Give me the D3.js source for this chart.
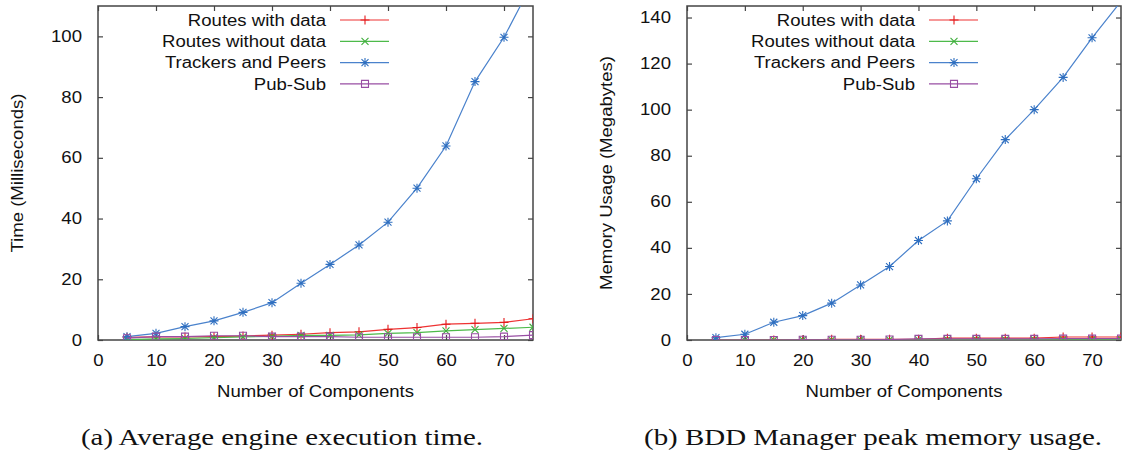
<!DOCTYPE html>
<html>
<head>
<meta charset="utf-8">
<script src="https://cdn.jsdelivr.net/npm/d3@7"></script>
<style>
    body { margin: 0; background: #fff; }
    svg { display: block; }
    text { font-family: "Liberation Sans", Arial, sans-serif; fill: #111; }
    text.caption { font-family: "Liberation Serif", "Times New Roman", serif; }
</style>
</head>
<body>
<div id="chart"></div>
<script>

const chartWidth = 1122;
const chartHeight = 458;

// DATA

const components = [5, 10, 15, 20, 25, 30, 35, 40, 45, 50, 55, 60, 65, 70, 75];

const seriesNames = ["Routes with data", "Routes without data", "Trackers and Peers", "Pub-Sub"];

// (a) time in milliseconds
const timeRoutesWithData    = [0.9, 1.0, 1.0, 1.1, 1.3, 1.6, 1.9, 2.4, 2.7, 3.5, 4.1, 5.2, 5.5, 5.8, 7.0];
const timeRoutesWithoutData = [0.1, 0.4, 0.5, 0.8, 1.0, 1.2, 1.5, 1.5, 1.7, 2.2, 2.4, 3.0, 3.4, 3.8, 4.2];
const timeTrackersPeers     = [1.1, 2.2, 4.4, 6.3, 9.1, 12.3, 18.7, 24.9, 31.3, 38.8, 50.0, 63.9, 85.1, 99.7, 118];
const timePubSub            = [0.6, 1.1, 1.1, 1.4, 1.4, 1.1, 1.1, 1.1, 0.9, 0.9, 0.9, 0.9, 0.9, 1.1, 1.6];

// (b) memory in megabytes
const memRoutesWithData    = [0.0, 0.0, 0.0, 0.0, 0.3, 0.3, 0.3, 0.3, 0.8, 0.8, 0.8, 0.8, 1.3, 1.3, 1.3];
const memRoutesWithoutData = [0.0, 0.0, 0.0, 0.0, 0.1, 0.1, 0.1, 0.1, 0.2, 0.2, 0.2, 0.2, 0.2, 0.2, 0.2];
const memTrackersPeers     = [1.0, 2.5, 7.7, 10.6, 16.0, 23.9, 31.9, 43.2, 51.7, 70.0, 87.0, 100.0, 114.0, 131.2, 147];
const memPubSub            = [0.0, 0.0, 0.0, 0.1, 0.1, 0.1, 0.2, 0.5, 0.5, 0.5, 0.5, 0.5, 0.6, 0.6, 0.6];

const xTicks = [0, 10, 20, 30, 40, 50, 60, 70];
const timeTicks = [0, 20, 40, 60, 80, 100];
const memTicks = [0, 20, 40, 60, 80, 100, 120, 140];

const colors = ["#ee3333", "#4dba4a", "#4a82cc", "#984ea3"];
const markerColors = ["#e41a1c", "#3fae3c", "#2f6fc0", "#984ea3"];

// wide sans look of the original
const stretch = "scale(1.16,1)";

// MARKERS

const markerPath = {
    plus: "M-4.5,0H4.5M0,-4.5V4.5",
    cross: "M-3.5,-3.5L3.5,3.5M-3.5,3.5L3.5,-3.5",
    star: "M-4.5,0H4.5M0,-4.5V4.5M-3.5,-3.5L3.5,3.5M-3.5,3.5L3.5,-3.5",
    square: "M-3.5,-3.5H3.5V3.5H-3.5Z"
};
const markerKinds = ["plus", "cross", "star", "square"];

const svg = d3
    .select("#chart")
    .append("svg")
    .attr("width", chartWidth)
    .attr("height", chartHeight);

function drawPanel(p) {

    const x = d3.scaleLinear()
        .domain([0, 75])
        .range([p.left, p.right]);

    const y = d3.scaleLinear()
        .domain([0, p.yMax])
        .range([340, 6]);

    const g = svg.append("g");

    // AXES (gnuplot style: inward ticks, mirrored)

    const xAxis = d3.axisBottom(x)
        .tickValues(xTicks)
        .tickSize(-5)
        .tickPadding(15);

    const xAxisTop = d3.axisTop(x)
        .tickValues(xTicks)
        .tickSize(-5)
        .tickFormat("");

    const yAxis = d3.axisLeft(y)
        .tickValues(p.yTicks)
        .tickSize(-5)
        .tickPadding(14);

    const yAxisRight = d3.axisRight(y)
        .tickValues(p.yTicks)
        .tickSize(-5)
        .tickFormat("");

    const gx = g.append("g").attr("transform", "translate(0,340)").call(xAxis);
    g.append("g").attr("transform", "translate(0,6)").call(xAxisTop);
    const gy = g.append("g").attr("transform", "translate(" + p.left + ",0)").call(yAxis);
    g.append("g").attr("transform", "translate(" + p.right + ",0)").call(yAxisRight);

    g.selectAll(".domain").remove();
    g.selectAll(".tick line").attr("stroke", "#444").attr("stroke-width", 1.2);
    g.selectAll(".tick text")
        .style("font-size", "16px")
        .attr("fill", "#111");

    gx.selectAll(".tick text").attr("transform", stretch);
    gy.selectAll(".tick text")
        .attr("x", 0)
        .attr("transform", "translate(-16,0) " + stretch);

    // border
    g.append("rect")
        .attr("x", p.left)
        .attr("y", 6)
        .attr("width", p.right - p.left)
        .attr("height", 334)
        .attr("fill", "none")
        .attr("stroke", "#444")
        .attr("stroke-width", 1.5);

    // axis titles
    g.append("text")
        .attr("text-anchor", "middle")
        .attr("transform", "translate(" + ((p.left + p.right) / 2) + ",397) " + stretch)
        .style("font-size", "16px")
        .text("Number of Components");

    g.append("text")
        .attr("text-anchor", "middle")
        .attr("transform", "translate(" + p.yTitleX + ",173) rotate(-90) " + stretch)
        .style("font-size", "16px")
        .text(p.yTitle);

    // LINES

    const clipId = "clip-" + p.id;
    svg.append("clipPath")
        .attr("id", clipId)
        .append("rect")
            .attr("x", p.left)
            .attr("y", 6)
            .attr("width", p.right - p.left)
            .attr("height", 334);

    const line = d3.line()
        .x((d, i) => x(components[i]))
        .y(d => y(d));

    const plot = g.append("g").attr("clip-path", "url(#" + clipId + ")");

    p.series.forEach((values, s) => {
        plot.append("path")
            .datum(values)
            .attr("fill", "none")
            .attr("stroke", colors[s])
            .attr("stroke-width", 1.2)
            .attr("d", line);

        plot.selectAll(".m" + s)
            .data(values)
            .enter()
            .append("path")
                .attr("class", "m" + s)
                .attr("transform", (d, i) => "translate(" + x(components[i]) + "," + y(d) + ")")
                .attr("d", markerPath[markerKinds[s]])
                .attr("fill", "none")
                .attr("stroke", markerColors[s])
                .attr("stroke-width", 1.1);
    });

    // LEGEND

    const legend = g.append("g");
    const textRight = p.left + 228;

    seriesNames.forEach((name, s) => {
        const ly = 20 + s * 21.3;

        legend.append("text")
            .attr("text-anchor", "end")
            .attr("dy", "0.35em")
            .attr("transform", "translate(" + textRight + "," + ly + ") " + stretch)
            .style("font-size", "16px")
            .text(name);

        legend.append("line")
            .attr("x1", textRight + 14)
            .attr("x2", textRight + 63)
            .attr("y1", ly)
            .attr("y2", ly)
            .attr("stroke", colors[s])
            .attr("stroke-width", 1.2);

        legend.append("path")
            .attr("transform", "translate(" + (textRight + 39) + "," + ly + ")")
            .attr("d", markerPath[markerKinds[s]])
            .attr("fill", "none")
            .attr("stroke", markerColors[s])
            .attr("stroke-width", 1.1);
    });

    // caption
    svg.append("text")
        .attr("class", "caption")
        .attr("x", p.captionX)
        .attr("y", 445)
        .attr("textLength", p.captionWidth)
        .attr("lengthAdjust", "spacingAndGlyphs")
        .style("font-size", "24px")
        .text(p.caption);
}

drawPanel({
    id: "a",
    left: 98,
    right: 533,
    yMax: 110,
    yTicks: timeTicks,
    yTitle: "Time (Milliseconds)",
    yTitleX: 23,
    series: [timeRoutesWithData, timeRoutesWithoutData, timeTrackersPeers, timePubSub],
    caption: "(a) Average engine execution time.",
    captionX: 81,
    captionWidth: 402
});

drawPanel({
    id: "b",
    left: 687,
    right: 1121,
    yMax: 145,
    yTicks: memTicks,
    yTitle: "Memory Usage (Megabytes)",
    yTitleX: 612,
    series: [memRoutesWithData, memRoutesWithoutData, memTrackersPeers, memPubSub],
    caption: "(b) BDD Manager peak memory usage.",
    captionX: 644,
    captionWidth: 458
});

</script>
</body>
</html>
